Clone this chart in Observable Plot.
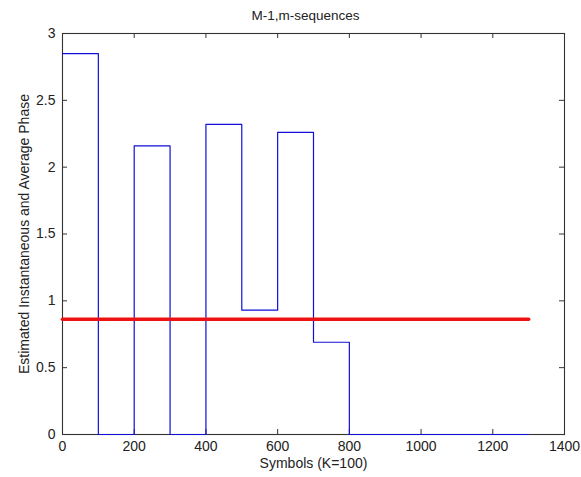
<!DOCTYPE html>
<html>
<head>
<meta charset="utf-8">
<script src="https://cdn.jsdelivr.net/npm/d3@7"></script>
<script src="https://cdn.jsdelivr.net/npm/@observablehq/plot@0.6"></script>
<style>
  html, body { margin: 0; padding: 0; background: #fff; }
  #chart svg { display: block; }
</style>
</head>
<body>
<div id="chart"></div>
<script>
// Data
const symbols = [0, 100, 200, 300, 400, 500, 600, 700, 800, 900, 1000, 1100, 1200, 1300];
const instPhase = [2.85, 0, 2.16, 0, 2.32, 0.93, 2.26, 0.69, 0, 0, 0, 0, 0, 0];
const avgSymbols = [0, 1300];
const avgPhase = [0.862, 0.862];
const xTicks = [0, 200, 400, 600, 800, 1000, 1200, 1400];
const yTicks = [0, 0.5, 1, 1.5, 2, 2.5, 3];
const title = "M-1,m-sequences";
const xLabel = "Symbols (K=100)";
const yLabel = "Estimated Instantaneous and Average Phase";

const inst = symbols.map((s, i) => ({x: s, y: instPhase[i]}));
const avg = avgSymbols.map((s, i) => ({x: s, y: avgPhase[i]}));

const W = 581, H = 477;
const mL = 62, mR = 17, mT = 33, mB = 43;
const pw = W - mL - mR, ph = H - mT - mB;
const tickLen = 5;
const axisColor = "#333";

const chart = Plot.plot({
  width: W,
  height: H,
  marginLeft: mL,
  marginRight: mR,
  marginTop: mT,
  marginBottom: mB,
  style: {fontFamily: "'Liberation Sans', Arial, sans-serif", fontSize: "14px", color: "#222", background: "#fff"},
  x: {domain: [0, 1400]},
  y: {domain: [0, 3]},
  marks: [
    Plot.frame({stroke: axisColor, strokeWidth: 1.1}),
    Plot.axisX(xTicks, {tickSize: 0, tickPadding: 7, label: null, fontSize: 14, tickFormat: d => String(d)}),
    Plot.axisY(yTicks, {tickSize: 0, tickPadding: 7, label: null, fontSize: 14, tickFormat: d => String(d)}),
    // inward ticks
    Plot.tickX(xTicks, {x: d => d, insetTop: ph - tickLen, stroke: axisColor}),
    Plot.tickX(xTicks, {x: d => d, insetBottom: ph - tickLen, stroke: axisColor}),
    Plot.tickY(yTicks, {y: d => d, insetRight: pw - tickLen, stroke: axisColor}),
    Plot.tickY(yTicks, {y: d => d, insetLeft: pw - tickLen, stroke: axisColor}),
    Plot.line(inst, {x: "x", y: "y", curve: "step-after", stroke: "#1010d8", strokeWidth: 1.2}),
    Plot.line(avg, {x: "x", y: "y", stroke: "#ee1111", strokeWidth: 3.6}),
    Plot.text([title], {frameAnchor: "top", dy: -13.5, dx: -8, lineAnchor: "bottom", textAnchor: "middle", fontSize: 13.5, fill: "#222"}),
    Plot.text([xLabel], {frameAnchor: "bottom", dy: 33, lineAnchor: "bottom", textAnchor: "middle", fontSize: 14, fill: "#222"}),
    Plot.text([yLabel], {frameAnchor: "left", dx: -34, rotate: -90, lineAnchor: "bottom", textAnchor: "middle", fontSize: 14, fill: "#222"})
  ]
});
document.getElementById("chart").appendChild(chart);
</script>
</body>
</html>
